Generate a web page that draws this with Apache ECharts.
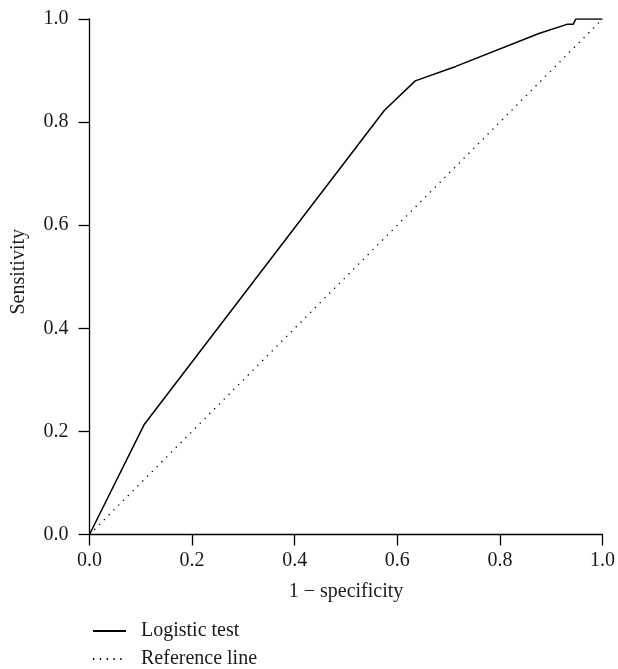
<!DOCTYPE html>
<html>
<head>
<meta charset="utf-8">
<script src="https://cdn.jsdelivr.net/npm/echarts@6/dist/echarts.min.js"></script>
<style>
html,body{margin:0;padding:0;background:#fff;}
#chart{width:618px;height:669px;}
</style>
</head>
<body>
<div id="chart"></div>
<script>
const logisticX = [0, 0.107, 0.575, 0.635, 0.714, 0.876, 0.932, 0.943, 0.948, 1.0];
const logisticY = [0, 0.214, 0.823, 0.880, 0.908, 0.972, 0.990, 0.990, 1.0, 1.0];
const referenceX = [0, 1];
const referenceY = [0, 1];
const tickValues = [0, 0.2, 0.4, 0.6, 0.8, 1.0];
const seriesNames = ['Logistic test', 'Reference line'];
const xAxisTitle = '1 \u2212 specificity';
const yAxisTitle = 'Sensitivity';

const FONT = 'Liberation Serif';
const FS = 20;
const TXT = '#1a1a1a';
const chart = echarts.init(document.getElementById('chart'), null, {renderer: 'canvas'});

function axisCommon(labelMargin) {
  return {
    type: 'value', min: 0, max: 1, interval: 0.2,
    axisLine: {show: true, lineStyle: {color: '#000', width: 1.3}},
    axisTick: {show: true, inside: false, length: 11, lineStyle: {color: '#000', width: 1.3}},
    splitLine: {show: false},
    axisLabel: {color: TXT, fontFamily: FONT, fontSize: FS, margin: labelMargin,
      formatter: v => tickValues.includes(+v.toFixed(1)) ? v.toFixed(1) : ''},
    nameTextStyle: {color: TXT, fontFamily: FONT, fontSize: FS},
    nameLocation: 'middle'
  };
}

function legendFor(name, top) {
  return {
    orient: 'vertical', left: 92, top: top, padding: 0, itemWidth: 33, itemHeight: 14,
    textStyle: {color: TXT, fontFamily: FONT, fontSize: FS, padding: [0, 0, 0, 10]},
    itemStyle: {opacity: 0},
    data: [name]
  };
}

const yAxisOpt = Object.assign(axisCommon(21), {name: yAxisTitle, nameGap: 61});
yAxisOpt.nameTextStyle = Object.assign({}, yAxisOpt.nameTextStyle, {padding: [0, 0, 0, 10]});

chart.setOption({
  animation: false,
  backgroundColor: '#fff',
  grid: {left: 89.5, right: 14.5, top: 19, bottom: 134.5, containLabel: false},
  xAxis: Object.assign(axisCommon(16), {name: xAxisTitle, nameGap: 47}),
  yAxis: yAxisOpt,
  legend: [legendFor(seriesNames[0], 621), legendFor(seriesNames[1], 649)],
  series: [
    {
      name: seriesNames[0], type: 'line', symbol: 'none',
      data: logisticX.map((x, i) => [x, logisticY[i]]),
      lineStyle: {color: '#000', width: 1.5}, itemStyle: {color: '#000'}
    },
    {
      name: seriesNames[1], type: 'line', symbol: 'none',
      data: referenceX.map((x, i) => [x, referenceY[i]]),
      lineStyle: {color: '#000', width: 1.3, type: [1.3, 5.5]}, itemStyle: {color: '#000'}
    }
  ]
});
</script>
</body>
</html>
